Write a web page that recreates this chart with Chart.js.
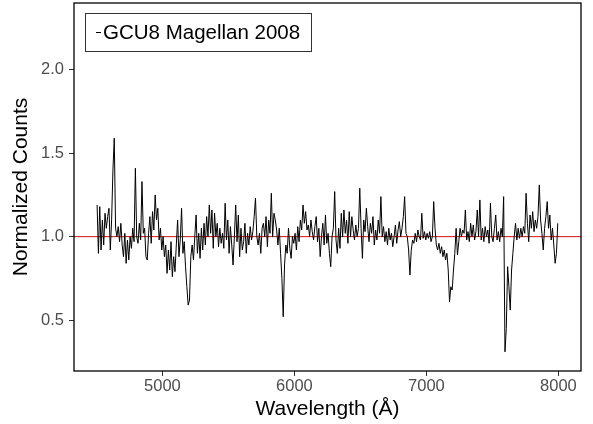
<!DOCTYPE html>
<html>
<head>
<meta charset="utf-8">
<script src="https://cdn.jsdelivr.net/npm/chart.js@4"></script>
<style>
  html, body { margin: 0; padding: 0; background: #fff; }
  #wrap { width: 593px; height: 424px; }
</style>
</head>
<body>
<div id="wrap"><canvas id="specChart" width="593" height="424"></canvas></div>
<script>
// spectrum sampling (Angstrom)
const waveStart = 4505;
const waveStep = 10;

// normalized counts, one row = 100 A
const counts = [
    1.19, 0.90, 1.18, 0.92, 1.10, 0.95, 1.14, 1.05, 1.12, 1.17, // 4505
    0.92, 1.10, 1.40, 1.59, 1.05, 1.00, 1.06, 0.97, 1.08, 0.95, // 4605
    0.88, 1.02, 0.84, 0.98, 0.86, 1.00, 0.93, 1.05, 0.97, 1.41, // 4705
    1.00, 0.96, 1.08, 0.98, 1.33, 1.02, 1.05, 0.88, 0.86, 1.02, // 4805
    1.12, 0.96, 1.15, 1.04, 1.25, 1.10, 1.17, 0.98, 1.05, 0.92, // 4905
    1.00, 0.88, 0.95, 0.78, 0.92, 0.80, 0.97, 0.76, 0.88, 0.79, // 5005
    0.95, 1.10, 0.88, 0.98, 1.17, 0.90, 0.97, 0.82, 0.70, 0.59, // 5105
    0.62, 0.88, 0.95, 0.86, 1.00, 1.13, 0.90, 1.02, 0.87, 1.05, // 5205
    0.92, 1.08, 0.95, 1.12, 1.00, 1.19, 1.02, 1.16, 0.93, 1.14, // 5305
    1.00, 1.08, 0.94, 1.05, 0.96, 1.02, 0.93, 1.20, 0.98, 1.10, // 5405
    0.90, 1.06, 0.95, 0.83, 1.00, 1.19, 0.97, 1.13, 0.88, 1.05, // 5505
    0.92, 0.97, 1.08, 0.90, 1.02, 0.95, 1.06, 0.98, 1.03, 1.12, // 5605
    1.23, 1.00, 0.95, 1.02, 0.90, 1.05, 1.08, 1.00, 1.12, 0.94, // 5705
    1.10, 1.02, 1.26, 1.00, 1.14, 1.10, 1.04, 0.95, 1.05, 0.90, // 5805
    0.75, 0.52, 0.83, 0.95, 0.90, 1.05, 0.93, 0.87, 1.00, 0.96, // 5905
    1.02, 0.92, 1.06, 0.97, 1.10, 1.04, 1.19, 1.08, 1.15, 1.04, // 6005
    1.07, 1.00, 1.10, 1.03, 0.98, 1.06, 1.12, 0.97, 1.05, 0.88, // 6105
    1.00, 1.08, 0.95, 1.13, 0.96, 1.02, 0.90, 0.82, 1.00, 1.05, // 6205
    1.27, 0.98, 0.90, 1.05, 0.93, 1.14, 1.00, 1.16, 1.02, 1.10, // 6305
    0.96, 1.15, 1.00, 1.12, 1.04, 0.98, 1.07, 1.00, 1.05, 1.29, // 6405
    1.05, 0.87, 1.10, 1.03, 1.17, 1.06, 0.97, 1.08, 1.02, 1.12, // 6505
    0.95, 1.04, 0.98, 1.10, 1.02, 1.24, 1.00, 1.06, 0.97, 1.03, // 6605
    0.95, 1.05, 0.98, 1.02, 0.94, 1.00, 1.07, 0.96, 1.04, 1.09, // 6705
    1.00, 1.05, 1.12, 1.24, 1.02, 1.00, 0.92, 0.77, 0.92, 0.98, // 6805
    0.96, 1.02, 0.97, 1.04, 1.00, 0.98, 1.14, 0.99, 1.03, 0.98, // 6905
    1.02, 0.99, 1.03, 0.97, 1.00, 1.21, 1.05, 0.95, 0.92, 0.96, // 7005
    0.90, 0.94, 0.88, 0.92, 0.86, 0.90, 0.80, 0.61, 0.70, 0.68, // 7105
    0.80, 0.90, 1.05, 0.89, 0.97, 1.05, 1.00, 1.04, 1.02, 1.16, // 7205
    0.98, 1.03, 0.97, 1.08, 1.00, 1.07, 0.98, 1.03, 1.16, 1.00, // 7305
    1.22, 0.98, 1.05, 0.97, 1.06, 1.00, 1.04, 0.96, 1.20, 1.00, // 7405
    0.97, 1.05, 1.13, 0.98, 1.03, 0.97, 1.05, 1.00, 1.24, 0.31, // 7505
    0.45, 0.82, 0.70, 0.56, 0.80, 0.90, 1.00, 1.08, 0.98, 1.05, // 7605
    0.99, 1.05, 1.00, 1.06, 1.02, 1.26, 1.08, 0.97, 1.13, 1.05, // 7705
    1.15, 1.03, 1.10, 1.05, 1.12, 1.31, 1.10, 1.02, 0.92, 1.05, // 7805
    1.12, 1.21, 1.05, 1.13, 0.98, 1.05, 0.95, 0.84, 0.90, 1.08  // 7905
];

const seriesName = "GCU8 Magellan 2008";
const refLevel = 1.0;
const xTickValues = [5000, 6000, 7000, 8000];
const yTickValues = [0.5, 1.0, 1.5, 2.0];

let points = counts.map(function (v, i) {
    return { x: waveStart + i * waveStep, y: v };
});

let fontFam = "'Liberation Sans', Arial, Helvetica, sans-serif";

// red line at 1.0 + black frame round the panel
let panelPlugin = {
    id: 'panel',
    beforeDatasetsDraw: function (chart) {
        let c = chart.ctx, a = chart.chartArea;
        let y = chart.scales.y.getPixelForValue(refLevel);
        c.save();
        c.strokeStyle = '#d01010';
        c.lineWidth = 1;
        c.beginPath();
        c.moveTo(a.left, y);
        c.lineTo(a.right, y);
        c.stroke();
        c.restore();
    },
    afterDraw: function (chart) {
        let c = chart.ctx, a = chart.chartArea;
        c.save();
        c.strokeStyle = '#000';
        c.lineWidth = 1.3;
        c.strokeRect(a.left, a.top, a.right - a.left, a.bottom - a.top);

        // legend box inside the panel
        let bx = a.left + 11, by = a.top + 10, bw = 226, bh = 38;
        c.fillStyle = '#fff';
        c.fillRect(bx, by, bw, bh);
        c.lineWidth = 1;
        c.strokeStyle = '#333';
        c.strokeRect(bx + 0.5, by + 0.5, bw, bh);
        c.strokeStyle = '#000';
        c.beginPath();
        c.moveTo(bx + 11, by + bh / 2 + 0.5);
        c.lineTo(bx + 16, by + bh / 2 + 0.5);
        c.stroke();
        c.fillStyle = '#000';
        c.font = '20.5px ' + fontFam;
        c.textBaseline = 'middle';
        c.fillText(seriesName, bx + 18, by + bh / 2 + 1);
        c.restore();
    }
};

new Chart(document.getElementById('specChart').getContext('2d'), {
    type: 'line',
    data: {
        datasets: [{
            label: seriesName,
            data: points,
            borderColor: '#000',
            borderWidth: 1,
            pointRadius: 0,
            tension: 0,
            fill: false
        }]
    },
    options: {
        responsive: false,
        animation: false,
        devicePixelRatio: 1,
        layout: { padding: { left: 0, right: 12, top: 3, bottom: 0 } },
        plugins: {
            legend: { display: false },
            tooltip: { enabled: false }
        },
        scales: {
            x: {
                type: 'linear',
                min: 4330,
                max: 8171,
                afterBuildTicks: function (s) { s.ticks = xTickValues.map(v => ({ value: v })); },
                afterFit: function (s) { s.height = 53; s.paddingLeft = 0; s.paddingRight = 0; },
                grid: { drawOnChartArea: false, drawTicks: true, tickLength: 5, color: '#333' },
                border: { display: false },
                ticks: {
                    color: '#4d4d4d',
                    font: { family: fontFam, size: 16.5 },
                    padding: 1,
                    maxRotation: 0,
                    callback: v => String(v)
                },
                title: {
                    display: true,
                    text: 'Wavelength (Å)',
                    color: '#000',
                    font: { family: fontFam, size: 21 },
                    padding: { top: 0, bottom: 2 }
                }
            },
            y: {
                type: 'linear',
                min: 0.195,
                max: 2.40,
                afterBuildTicks: function (s) { s.ticks = yTickValues.map(v => ({ value: v })); },
                afterFit: function (s) { s.width = 74; s.paddingTop = 0; s.paddingBottom = 0; },
                grid: { drawOnChartArea: false, drawTicks: true, tickLength: 5, color: '#333' },
                border: { display: false },
                ticks: {
                    color: '#4d4d4d',
                    font: { family: fontFam, size: 16.5 },
                    padding: 5,
                    callback: v => v.toFixed(1)
                },
                title: {
                    display: true,
                    text: 'Normalized Counts',
                    color: '#000',
                    font: { family: fontFam, size: 21 },
                    padding: { top: 9, bottom: 0 }
                }
            }
        }
    },
    plugins: [panelPlugin]
});
</script>
</body>
</html>
